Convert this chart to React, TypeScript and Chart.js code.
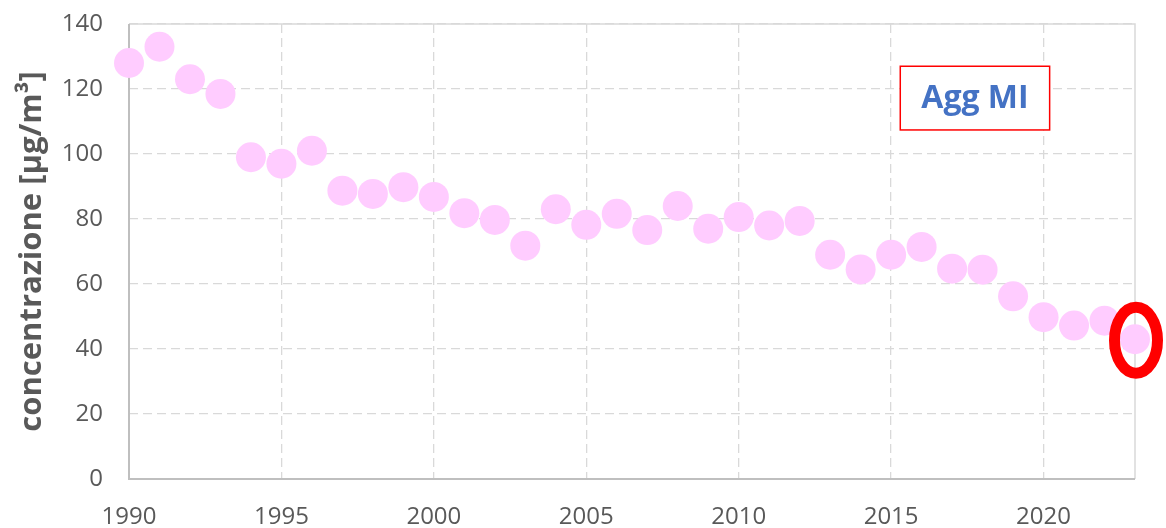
import React, { useEffect, useRef } from "react";
import { Chart, registerables } from "chart.js";

Chart.register(...registerables);

const years: number[] = [
  1990, 1991, 1992, 1993, 1994, 1995, 1996, 1997, 1998, 1999,
  2000, 2001, 2002, 2003, 2004, 2005, 2006, 2007, 2008, 2009,
  2010, 2011, 2012, 2013, 2014, 2015, 2016, 2017, 2018, 2019,
  2020, 2021, 2022, 2023,
];
const concentrations: number[] = [
  128, 133, 123, 118.5, 99, 97, 101, 88.7, 87.7, 89.8,
  86.8, 81.8, 79.7, 71.8, 83, 78.2, 81.6, 76.6, 84, 77,
  80.6, 78, 79.4, 69, 64.5, 69, 71.4, 64.7, 64.4, 56.2,
  49.8, 47.2, 48.7, 43,
];
const xTickValues: number[] = [1990, 1995, 2000, 2005, 2010, 2015, 2020];
const yAxisTitle = "concentrazione [µg/m³]";
const boxLabel = "Agg MI";
const highlightYear = 2023;
const highlightValue = 43;

const FONT = "'Open Sans', 'Noto Sans', sans-serif";

const overlayPlugin = {
  id: "overlay",
  beforeDatasetsDraw(chart: any) {
    const { ctx, chartArea } = chart;
    const { left, right, top, bottom } = chartArea;
    ctx.save();
    ctx.setLineDash([]);
    ctx.strokeStyle = "#D9D9D9";
    ctx.lineWidth = 1.5;
    ctx.beginPath();
    ctx.moveTo(left, top);
    ctx.lineTo(right, top);
    ctx.lineTo(right, bottom);
    ctx.stroke();
    ctx.strokeStyle = "#BFBFBF";
    ctx.lineWidth = 2;
    ctx.beginPath();
    ctx.moveTo(left, top);
    ctx.lineTo(left, bottom);
    ctx.lineTo(right, bottom);
    ctx.stroke();
    ctx.restore();
  },
  afterDraw(chart: any) {
    const { ctx } = chart;
    const xs = chart.scales.x;
    const ys = chart.scales.y;
    ctx.save();
    const cx = xs.getPixelForValue(highlightYear);
    const cy = ys.getPixelForValue(highlightValue);
    ctx.strokeStyle = "#FF0000";
    ctx.lineWidth = 11;
    ctx.beginPath();
    ctx.ellipse(cx + 1, cy + 1, 21.5, 33, 0, 0, Math.PI * 2);
    ctx.stroke();
    const bx1 = xs.getPixelForValue(2015.3);
    const bx2 = xs.getPixelForValue(2020.2);
    const by1 = ys.getPixelForValue(127);
    const by2 = ys.getPixelForValue(107.4);
    ctx.fillStyle = "#FFFFFF";
    ctx.fillRect(bx1, by1, bx2 - bx1, by2 - by1);
    ctx.strokeStyle = "#FF0000";
    ctx.lineWidth = 1.5;
    ctx.strokeRect(bx1, by1, bx2 - bx1, by2 - by1);
    ctx.fillStyle = "#4472C4";
    ctx.font = `bold 32px ${FONT}`;
    ctx.textAlign = "center";
    ctx.textBaseline = "middle";
    ctx.fillText(boxLabel, (bx1 + bx2) / 2, (by1 + by2) / 2 + 1);
    ctx.restore();
  },
};

export default function App() {
  const canvasRef = useRef<HTMLCanvasElement | null>(null);

  useEffect(() => {
    document.body.style.margin = "0";
    const canvas = canvasRef.current;
    if (!canvas) return;
    const chart = new Chart(canvas, {
      type: "scatter",
      data: {
        datasets: [
          {
            data: years.map((y, i) => ({ x: y, y: concentrations[i] })),
            backgroundColor: "#FFCCFF",
            borderWidth: 0,
            pointRadius: 15,
            pointHoverRadius: 15,
            clip: false,
          } as any,
        ],
      },
      options: {
        animation: false,
        responsive: false,
        maintainAspectRatio: false,
        layout: { autoPadding: false, padding: { top: 24, right: 31, left: 0, bottom: 0 } },
        plugins: {
          legend: { display: false },
          tooltip: { enabled: false },
        },
        scales: {
          x: {
            type: "linear",
            min: 1990,
            max: 2023,
            afterBuildTicks: (scale: any) => {
              scale.ticks = xTickValues.map((v) => ({ value: v }));
            },
            afterFit: (scale: any) => {
              scale.height = 528 - 479;
              scale.paddingLeft = 0;
              scale.paddingRight = 0;
            },
            ticks: {
              color: "#595959",
              font: { family: FONT, size: 24 },
              padding: 24,
              maxRotation: 0,
              autoSkip: false,
              callback: (v: any) => String(v),
            },
            grid: {
              color: "#D9D9D9",
              lineWidth: 1.3,
              drawTicks: false,
            },
            border: { display: false, dash: [9, 5] },
          },
          y: {
            type: "linear",
            min: 0,
            max: 140,
            afterFit: (scale: any) => {
              scale.width = 129;
              scale.paddingTop = 0;
              scale.paddingBottom = 0;
            },
            ticks: {
              stepSize: 20,
              color: "#595959",
              font: { family: FONT, size: 24 },
              padding: 26,
            },
            grid: {
              color: "#D9D9D9",
              lineWidth: 1.3,
              drawTicks: false,
            },
            border: { display: false, dash: [9, 5] },
            title: {
              display: true,
              text: yAxisTitle,
              color: "#595959",
              font: { family: FONT, size: 31, weight: "bold" },
              padding: { top: 14, bottom: 0 },
            },
          },
        },
      },
      plugins: [overlayPlugin],
    });
    return () => chart.destroy();
  }, []);

  return (
    <div style={{ width: 1166, height: 528, background: "#FFFFFF" }}>
      <canvas ref={canvasRef} width={1166} height={528} style={{ display: "block" }} />
    </div>
  );
}
